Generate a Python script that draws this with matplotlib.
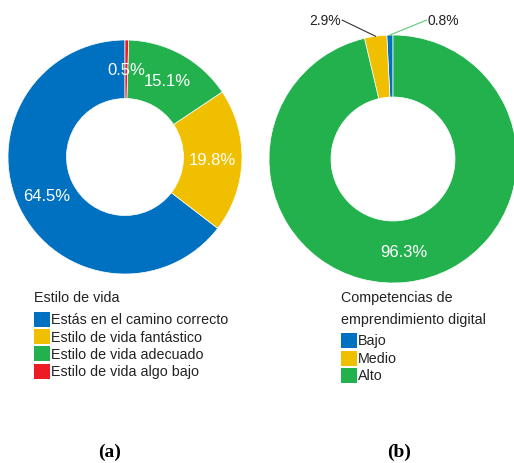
import matplotlib
matplotlib.use("Agg")
import matplotlib.pyplot as plt
from matplotlib.patches import Rectangle
import numpy as np

# ── data ──────────────────────────────────────────────────────────────────────
estilo_labels = ["Estás en el camino correcto", "Estilo de vida fantástico",
                 "Estilo de vida adecuado", "Estilo de vida algo bajo"]
estilo_values = [64.5, 19.8, 15.1, 0.5]
estilo_colors = ["#0070C0", "#F0BF00", "#23B14D", "#ED1C24"]

comp_labels = ["Bajo", "Medio", "Alto"]
comp_values = [0.8, 2.9, 96.3]
comp_colors = ["#0070C0", "#F0BF00", "#23B14D"]

W, H = 514, 464
plt.rcParams["font.family"] = ["Liberation Sans", "DejaVu Sans"]

fig = plt.figure(figsize=(W / 100, H / 100), dpi=100)
fig.patch.set_facecolor("white")


def px_axes(cx, cy, r):
    # axes box in pixel units, centred on the donut
    return fig.add_axes([(cx - r) / W, 1 - (cy + r) / H, 2 * r / W, 2 * r / H])


def donut(ax, values, colors):
    wedges, _ = ax.pie(values, colors=colors, startangle=90, counterclock=True,
                       radius=1.0,
                       wedgeprops=dict(width=0.5, edgecolor="white", linewidth=0.5))
    ax.set_xlim(-1, 1)
    ax.set_ylim(-1, 1)
    ax.set_aspect("equal")
    ax.axis("off")
    return wedges


def mid_angle(w):
    return np.deg2rad((w.theta1 + w.theta2) / 2)


# ── (a) estilo de vida ────────────────────────────────────────────────────────
ax_a = px_axes(125, 158, 117)
wedges_a = donut(ax_a, estilo_values, estilo_colors)
for w, v in zip(wedges_a, estilo_values):
    a = mid_angle(w)
    ax_a.text(0.75 * np.cos(a), 0.75 * np.sin(a), f"{v}%", color="white",
              fontsize=12, ha="center", va="center")

# ── (b) competencias ──────────────────────────────────────────────────────────
ax_b = px_axes(393, 160, 124)
wedges_b = donut(ax_b, comp_values, comp_colors)
for w, v in zip(wedges_b, comp_values):
    a = mid_angle(w)
    if v > 50:
        ax_b.text(0.75 * np.cos(a), 0.75 * np.sin(a), f"{v}%", color="white",
                  fontsize=12, ha="center", va="center")

# outside labels with leader lines
out_specs = {0: (0.27, "left", "#5DCB7A"), 1: (-0.41, "right", "#333333")}
for i, (tx, ha, lc) in out_specs.items():
    a = mid_angle(wedges_b[i])
    ty = 1.12
    ax_b.plot([np.cos(a), tx], [np.sin(a), ty], color=lc, lw=0.8, clip_on=False)
    ax_b.text(tx + (0.01 if ha == "left" else -0.01), ty, f"{comp_values[i]}%",
              color="#222222", fontsize=10, ha=ha, va="center", clip_on=False)


# ── legends ───────────────────────────────────────────────────────────────────
def fig_text(x, y, s, **kw):
    fig.text(x / W, 1 - y / H, s, va="center", ha="left", **kw)


def legend_block(x0, title_lines, y_title, labels, colors, y0, step):
    for k, line in enumerate(title_lines):
        fig_text(x0, y_title + k * 22, line, fontsize=10.3, color="#222222")
    for k, (lab, col) in enumerate(zip(labels, colors)):
        y = y0 + k * step
        fig.patches.append(Rectangle((x0 / W, 1 - (y + 7.5) / H), 16 / W, 15 / H,
                                     transform=fig.transFigure, facecolor=col,
                                     edgecolor="none"))
        fig_text(x0 + 17, y, lab, fontsize=10.3, color="#222222")


legend_block(34, ["Estilo de vida"], 298, estilo_labels, estilo_colors, 320.5, 17.2)
legend_block(341, ["Competencias de", "emprendimiento digital"], 298,
             comp_labels, comp_colors, 341.5, 17.5)

# ── sub captions ──────────────────────────────────────────────────────────────
for x, s in [(110, "(a)"), (399, "(b)")]:
    fig.text(x / W, 1 - 452 / H, s, ha="center", va="center", fontsize=14,
             fontweight="bold", family="Liberation Serif")

fig.savefig("out.png", dpi=100, facecolor="white")
